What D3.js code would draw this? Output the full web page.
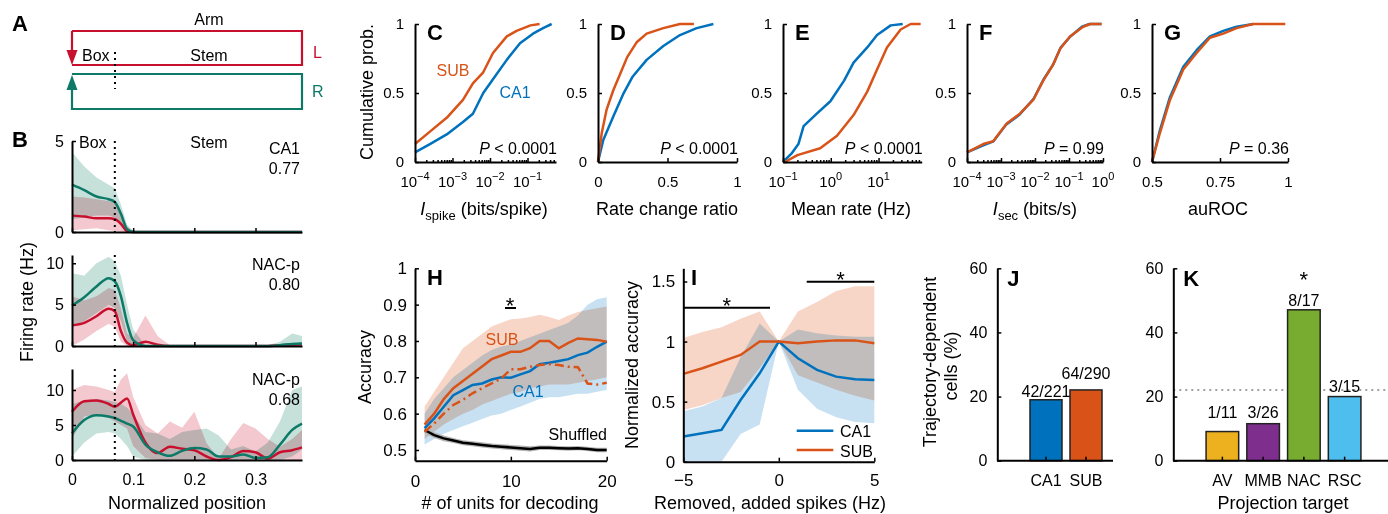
<!DOCTYPE html>
<html>
<head>
<meta charset="utf-8">
<script src="https://cdnjs.cloudflare.com/ajax/libs/d3/7.8.5/d3.min.js"></script>
<style>
  body { margin: 0; background: #fff; }
</style>
</head>
<body>
<svg id="fig" width="1388" height="514"></svg>
<script>
// ---------------- data ----------------
// B: firing rate along the normalized position (three example cells)
const bPos = [0, 0.02, 0.04, 0.06, 0.07, 0.08, 0.09, 0.1, 0.12, 0.14, 0.16, 0.18, 0.2, 0.22, 0.24, 0.26, 0.28, 0.3, 0.32, 0.34, 0.36, 0.376];

const b1Teal   = [2.6, 2.3, 1.95, 1.8, 1.65, 1.0, 0.15, 0, 0, 0, 0, 0, 0, 0, 0, 0, 0, 0, 0, 0, 0, 0];
const b1TealLo = [0.7, 0.8, 0.9, 0.9, 0.8, 0.3, 0, 0, 0, 0, 0, 0, 0, 0, 0, 0, 0, 0, 0, 0, 0, 0];
const b1TealHi = [4.4, 3.6, 3.0, 2.6, 2.4, 1.5, 0.4, 0.05, 0.03, 0.03, 0.03, 0.03, 0.03, 0.03, 0.03, 0.03, 0.03, 0.03, 0.03, 0.03, 0.03, 0.03];
const b1Red    = [0.9, 0.85, 0.75, 0.75, 0.7, 0.45, 0.05, 0, 0, 0, 0, 0, 0, 0, 0, 0, 0, 0, 0, 0, 0, 0];
const b1RedLo  = [0.1, 0.15, 0.2, 0.1, 0.05, 0, 0, 0, 0, 0, 0, 0, 0, 0, 0, 0, 0, 0, 0, 0, 0, 0];
const b1RedHi  = [1.95, 1.9, 1.8, 1.7, 1.6, 1.1, 0.3, 0.05, 0, 0, 0, 0, 0, 0, 0, 0, 0, 0, 0, 0, 0, 0];

const b2Teal   = [4.9, 5.9, 7.2, 8.2, 7.8, 6.0, 2.8, 0.7, 0, 0, 0, 0, 0, 0, 0, 0, 0, 0, 0, 0.1, 0.25, 0.3];
const b2TealLo = [2.3, 3.0, 4.0, 5.0, 4.6, 3.0, 0.5, 0, 0, 0, 0, 0, 0, 0, 0, 0, 0, 0, 0, 0, 0, 0];
const b2TealHi = [8.8, 8.5, 10.0, 10.8, 10.2, 8.5, 5.0, 2.0, 0.1, 0, 0, 0, 0, 0, 0, 0, 0, 0, 0.1, 0.5, 1.5, 1.2];
const b2Red    = [2.5, 2.8, 3.6, 4.5, 4.2, 1.8, 0.4, 0.1, 0.5, 0.15, 0, 0, 0, 0, 0, 0, 0, 0, 0, 0.1, 0.15, 0.2];
const b2RedLo  = [0, 0.8, 1.8, 2.7, 2.3, 0.5, 0, 0, 0, 0, 0, 0, 0, 0, 0, 0, 0, 0, 0, 0, 0, 0];
const b2RedHi  = [6.0, 5.5, 6.0, 7.0, 6.8, 4.5, 1.5, 1.0, 3.7, 1.2, 0.1, 0, 0, 0, 0, 0, 0, 0, 0, 0.2, 0.3, 0.4];

const b3Teal   = [3.8, 5.7, 6.4, 6.2, 6.0, 5.6, 5.2, 4.8, 2.2, 1.1, 0.6, 1.3, 1.7, 1.5, 0.5, 0.5, 0.8, 0.3, 0.4, 2.2, 4.3, 5.2];
const b3TealLo = [0.5, 2.5, 3.8, 4.0, 3.8, 3.0, 2.0, 0.5, 0, 0, 0, 0, 0, 0, 0, 0, 0, 0, 0, 0, 0.5, 1.5];
const b3TealHi = [8.0, 8.5, 8.7, 8.5, 8.3, 8.0, 7.5, 6.5, 4.0, 3.8, 3.0, 4.0, 4.3, 4.5, 3.5, 1.5, 2.0, 1.2, 2.5, 5.5, 10.0, 10.5];
const b3Red    = [6.9, 8.4, 8.5, 8.0, 7.6, 8.2, 8.8, 6.5, 2.5, 1.0, 1.9, 1.6, 1.4, 0.5, 0, 0.4, 1.3, 1.1, 0.2, 1.1, 1.4, 1.8];
const b3RedLo  = [3.0, 6.2, 6.5, 6.0, 5.5, 5.0, 4.5, 2.0, 0.3, 0, 0, 0, 0, 0, 0, 0, 0, 0, 0, 0, 0, 0];
const b3RedHi  = [10.0, 10.7, 10.5, 10.0, 9.7, 11.5, 12.4, 9.0, 5.0, 3.8, 5.5, 4.6, 6.9, 2.4, 0.2, 3.0, 5.3, 4.5, 3.0, 1.9, 3.0, 4.3];

const bNames  = ['CA1', 'NAC-p', 'NAC-p'];
const bScores = ['0.77', '0.80', '0.68'];

// C-G: cumulative distributions (value, cumulative probability)
const cSubX = [1e-4, 2.5e-4, 7e-4, 1.9e-3, 3.5e-3, 6.6e-3, 0.012, 0.028, 0.051, 0.12, 0.21];
const cSubP = [0.13, 0.22, 0.32, 0.45, 0.57, 0.65, 0.79, 0.91, 0.95, 0.99, 1];
const cCa1X = [1e-4, 2.5e-4, 7e-4, 1.9e-3, 3.5e-3, 6.6e-3, 0.012, 0.028, 0.063, 0.14, 0.26, 0.44];
const cCa1P = [0.07, 0.13, 0.2, 0.29, 0.35, 0.5, 0.6, 0.74, 0.86, 0.93, 0.97, 1];

const dSubX = [0, 0.027, 0.062, 0.11, 0.16, 0.21, 0.28, 0.35, 0.47, 0.59, 0.69];
const dSubP = [0, 0.21, 0.38, 0.52, 0.64, 0.76, 0.87, 0.93, 0.97, 1, 1];
const dCa1X = [0, 0.038, 0.11, 0.18, 0.25, 0.35, 0.47, 0.59, 0.71, 0.83];
const dCa1P = [0, 0.16, 0.33, 0.49, 0.62, 0.74, 0.84, 0.92, 0.97, 1];

const eCa1X = [0.1, 0.15, 0.21, 0.27, 0.51, 0.98, 1.9, 3.0, 5.8, 9.3, 18, 32];
const eCa1P = [0, 0.06, 0.13, 0.26, 0.35, 0.44, 0.59, 0.72, 0.83, 0.92, 0.99, 1];
const eSubX = [0.11, 0.2, 0.6, 1.35, 3.0, 5.8, 9.3, 15, 29, 47, 76];
const eSubP = [0, 0.05, 0.1, 0.19, 0.34, 0.51, 0.67, 0.83, 0.96, 1, 1];

const fCa1X = [1e-4, 3e-4, 6e-4, 1.4e-3, 3.4e-3, 9.2e-3, 0.018, 0.033, 0.057, 0.11, 0.24, 0.4, 0.9];
const fCa1P = [0.07, 0.12, 0.15, 0.27, 0.34, 0.46, 0.6, 0.7, 0.83, 0.91, 0.98, 1, 1];
const fSubX = [1e-4, 3e-4, 5.9e-4, 1.5e-3, 3.6e-3, 8.9e-3, 0.0174, 0.035, 0.055, 0.107, 0.26, 0.42, 0.91];
const fSubP = [0.07, 0.13, 0.15, 0.28, 0.35, 0.45, 0.59, 0.71, 0.82, 0.91, 0.98, 1, 1];

const gCa1X = [0.5, 0.529, 0.566, 0.615, 0.664, 0.713, 0.762, 0.811, 0.872];
const gCa1P = [0, 0.23, 0.47, 0.69, 0.81, 0.91, 0.95, 0.98, 1];
const gSubX = [0.5, 0.529, 0.566, 0.615, 0.664, 0.713, 0.762, 0.811, 0.872, 0.99];
const gSubP = [0, 0.21, 0.45, 0.67, 0.79, 0.9, 0.93, 0.97, 1, 1];

// H: decoding accuracy vs number of units
const hUnits   = [1, 2, 3, 4, 5, 6, 7, 8, 9, 10, 11, 12, 13, 14, 15, 16, 17, 18, 19, 20];
const hSub     = [0.57, 0.60, 0.64, 0.67, 0.69, 0.71, 0.73, 0.75, 0.76, 0.77, 0.77, 0.78, 0.80, 0.80, 0.78, 0.795, 0.807, 0.805, 0.803, 0.798];
const hSubLo   = [0.53, 0.55, 0.57, 0.585, 0.60, 0.61, 0.625, 0.635, 0.645, 0.655, 0.66, 0.67, 0.675, 0.68, 0.68, 0.68, 0.685, 0.69, 0.695, 0.70];
const hSubHi   = [0.62, 0.66, 0.70, 0.74, 0.78, 0.80, 0.82, 0.84, 0.85, 0.86, 0.862, 0.866, 0.872, 0.866, 0.858, 0.87, 0.88, 0.885, 0.89, 0.895];
const hCa1     = [0.56, 0.587, 0.619, 0.651, 0.665, 0.679, 0.683, 0.694, 0.70, 0.699, 0.708, 0.717, 0.736, 0.74, 0.745, 0.75, 0.761, 0.768, 0.784, 0.798];
const hCa1Lo   = [0.515, 0.53, 0.545, 0.555, 0.565, 0.575, 0.585, 0.595, 0.60, 0.61, 0.62, 0.63, 0.64, 0.645, 0.645, 0.65, 0.655, 0.655, 0.66, 0.665];
const hCa1Hi   = [0.60, 0.64, 0.67, 0.70, 0.72, 0.74, 0.76, 0.775, 0.785, 0.79, 0.80, 0.81, 0.82, 0.83, 0.84, 0.85, 0.87, 0.90, 0.915, 0.92];
const hSubDash = [0.55, 0.573, 0.60, 0.624, 0.638, 0.656, 0.67, 0.683, 0.697, 0.722, 0.722, 0.729, 0.734, 0.736, 0.734, 0.729, 0.728, 0.683, 0.68, 0.685];
const hShuf    = [0.555, 0.541, 0.532, 0.526, 0.52, 0.517, 0.514, 0.511, 0.509, 0.507, 0.505, 0.503, 0.506, 0.506, 0.505, 0.504, 0.505, 0.503, 0.50, 0.50];
const hShufLo  = [0.547, 0.533, 0.524, 0.519, 0.513, 0.51, 0.507, 0.504, 0.502, 0.5, 0.498, 0.496, 0.5, 0.5, 0.499, 0.498, 0.499, 0.497, 0.494, 0.494];
const hShufHi  = [0.563, 0.549, 0.54, 0.533, 0.527, 0.524, 0.521, 0.518, 0.516, 0.514, 0.512, 0.51, 0.512, 0.512, 0.511, 0.51, 0.511, 0.509, 0.506, 0.506];

// I: normalized accuracy vs removed / added spikes
const iShift = [-5, -4, -3, -2, -1, 0, 1, 2, 3, 4, 5];
const iCa1   = [0.21, 0.236, 0.264, 0.514, 0.736, 1, 0.861, 0.764, 0.708, 0.686, 0.681];
const iCa1Lo = [0, 0, 0, 0.23, 0.31, 1, 0.6, 0.44, 0.37, 0.33, 0.32];
const iCa1Hi = [0.42, 0.46, 0.53, 0.87, 1.15, 1, 1.1, 1.07, 1.05, 1.04, 1.04];
const iSub   = [0.731, 0.778, 0.833, 0.889, 1.0, 1.0, 0.986, 1.0, 1.01, 1.01, 0.986];
const iSubLo = [0.43, 0.47, 0.53, 0.58, 0.78, 1, 0.72, 0.66, 0.6, 0.55, 0.51];
const iSubHi = [1.03, 1.08, 1.12, 1.19, 1.25, 1, 1.25, 1.33, 1.42, 1.46, 1.46];

// J, K: trajectory-dependent cells
const jCats   = ['CA1', 'SUB'];
const jCounts = [42, 64];
const jTotals = [221, 290];
const kCats   = ['AV', 'MMB', 'NAC', 'RSC'];
const kCounts = [1, 3, 8, 3];
const kTotals = [11, 26, 17, 15];
const kOverall = 22.07;

// ---------------- style ----------------
const FONT = '"Liberation Sans", Arial, Helvetica, sans-serif';
const BLUE = '#0072BD', ORANGE = '#D95319';
const BLUE_L = '#c8e1f2', ORANGE_L = '#f7d6c7';
const RED = '#C8102E', TEAL = '#0D7A68';
const RED_L = '#f3c9cf', TEAL_L = '#c6e0da';
const jColors = ['#0072BD', '#D95319'];
const kColors = ['#EDB120', '#7E2F8E', '#77AC30', '#4DBEEE'];

const svg = d3.select('#fig').attr('font-family', FONT);

function txt(x, y, s, o = {}) {
    return svg.append('text')
        .attr('x', x).attr('y', y)
        .attr('font-size', o.size || 16)
        .attr('text-anchor', o.anchor || 'start')
        .attr('fill', o.fill || '#000')
        .attr('font-weight', o.weight || null)
        .attr('font-style', o.italic ? 'italic' : null)
        .text(s);
}

function vtxt(x, y, s, size = 18) {
    return svg.append('text')
        .attr('transform', `translate(${x},${y}) rotate(-90)`)
        .attr('text-anchor', 'middle')
        .attr('font-size', size)
        .text(s);
}

function letter(x, y, s) {
    return txt(x, y, s, { size: 22, weight: 'bold' });
}

function styleAxis(g, fs) {
    g.attr('font-family', FONT).attr('font-size', fs);
    g.select('.domain').attr('stroke', '#000').attr('stroke-width', 2);
    g.selectAll('.tick line').attr('stroke', '#000').attr('stroke-width', 1.5);
    g.selectAll('.tick text').attr('fill', '#000');
    return g;
}

const fmtNum = d => (d < 0 ? '\u2212' + (-d) : String(d));

// ---------------- A: maze sketch ----------------
letter(12, 31, 'A');
txt(209, 25, 'Arm', { anchor: 'middle' });
txt(82, 61, 'Box');
txt(209, 61, 'Stem', { anchor: 'middle' });
txt(313, 58, 'L', { fill: RED });
txt(312, 97, 'R', { fill: TEAL });

svg.append('path')
    .attr('d', 'M72,31 H302 V65 H72 M72,31 V51')
    .attr('fill', 'none').attr('stroke', RED).attr('stroke-width', 2.2);
svg.append('path')
    .attr('d', 'M66.5,50 L77.5,50 L72,65 Z')
    .attr('fill', RED);
svg.append('path')
    .attr('d', 'M72,74 H302 V109 H72 V89')
    .attr('fill', 'none').attr('stroke', TEAL).attr('stroke-width', 2.2);
svg.append('path')
    .attr('d', 'M66.5,90 L77.5,90 L72,75 Z')
    .attr('fill', TEAL);
svg.append('line')
    .attr('x1', 115).attr('x2', 115).attr('y1', 52).attr('y2', 89)
    .attr('stroke', '#000').attr('stroke-width', 2).attr('stroke-dasharray', '2,4');

// ---------------- B: firing-rate profiles ----------------
letter(12, 147, 'B');
const xB = d3.scaleLinear().domain([0, 0.376]).range([72, 302]);
const bRows = [
    { bottom: 232, max: 5,  ticks: [0, 5],     teal: b1Teal, tLo: b1TealLo, tHi: b1TealHi, red: b1Red, rLo: b1RedLo, rHi: b1RedHi, nameY: 154 },
    { bottom: 346, max: 11, ticks: [0, 5, 10], teal: b2Teal, tLo: b2TealLo, tHi: b2TealHi, red: b2Red, rLo: b2RedLo, rHi: b2RedHi, nameY: 270 },
    { bottom: 460, max: 13, ticks: [0, 5, 10], teal: b3Teal, tLo: b3TealLo, tHi: b3TealHi, red: b3Red, rLo: b3RedLo, rHi: b3RedHi, nameY: 385 }
];

bRows.forEach((row, r) => {
    const y = d3.scaleLinear().domain([0, row.max]).range([row.bottom, row.bottom - 91]);
    const band = (lo, hi) => d3.area()
        .x((d, i) => xB(bPos[i]))
        .y0((d, i) => y(lo[i]))
        .y1((d, i) => y(hi[i]));
    const line = vals => d3.line()
        .x((d, i) => xB(bPos[i]))
        .y((d, i) => y(vals[i]))
        .curve(d3.curveMonotoneX);

    svg.append('path').datum(bPos).attr('d', band(row.tLo, row.tHi))
        .attr('fill', TEAL_L).style('mix-blend-mode', 'multiply');
    svg.append('path').datum(bPos).attr('d', band(row.rLo, row.rHi))
        .attr('fill', RED_L).style('mix-blend-mode', 'multiply');
    svg.append('path').datum(bPos).attr('d', line(row.red))
        .attr('fill', 'none').attr('stroke', RED).attr('stroke-width', 2.5);
    svg.append('path').datum(bPos).attr('d', line(row.teal))
        .attr('fill', 'none').attr('stroke', TEAL).attr('stroke-width', 2.5);

    // box / stem boundary
    svg.append('line')
        .attr('x1', xB(0.07)).attr('x2', xB(0.07))
        .attr('y1', row.bottom - 91).attr('y2', row.bottom)
        .attr('stroke', '#000').attr('stroke-width', 2).attr('stroke-dasharray', '2,4');

    styleAxis(svg.append('g').attr('transform', 'translate(72,0)')
        .call(d3.axisLeft(y).tickValues(row.ticks).tickFormat(fmtNum)
            .tickSizeInner(-4).tickSizeOuter(0).tickPadding(8)), 16);
    styleAxis(svg.append('g').attr('transform', `translate(0,${row.bottom})`)
        .call(d3.axisBottom(xB).tickValues([0, 0.1, 0.2, 0.3]).tickSizeInner(-4).tickSizeOuter(0).tickPadding(14)
            .tickFormat(r === 2 ? (d => (d === 0 ? '0' : d3.format('.1f')(d))) : '')), 16);

    txt(300, row.nameY, bNames[r], { anchor: 'end' });
    txt(300, row.nameY + 20, bScores[r], { anchor: 'end' });
});
txt(79, 148, 'Box');
txt(209, 148, 'Stem', { anchor: 'middle' });
vtxt(33, 302, 'Firing rate (Hz)');
txt(187, 509, 'Normalized position', { anchor: 'middle', size: 18 });

// ---------------- C-G: cumulative distributions ----------------
const yTop = d3.scaleLinear().domain([0, 1]).range([162, 24]);

function logLabels(x, values) {
    values.forEach(v => {
        const e = Math.round(Math.log10(v));
        const t = svg.append('text').attr('x', x(v)).attr('y', 187)
            .attr('text-anchor', 'middle').attr('font-size', 15);
        t.append('tspan').text('10');
        t.append('tspan').attr('dy', -7).attr('font-size', 11).text(e < 0 ? '\u2212' + (-e) : String(e));
    });
}

function minorTicks(x) {
    const [a, b] = x.domain();
    const out = [];
    for (let e = Math.floor(Math.log10(a)); e <= Math.ceil(Math.log10(b)); e++) {
        for (let k = 2; k <= 9; k++) {
            const v = k * Math.pow(10, e);
            if (v > a && v < b) out.push(v);
        }
    }
    return out;
}

function cdfPanel(cfg) {
    const x = cfg.x;
    cfg.series.forEach(s => {
        svg.append('path')
            .datum(d3.zip(s.xs, s.ps))
            .attr('d', d3.line().x(d => x(d[0])).y(d => yTop(d[1])))
            .attr('fill', 'none').attr('stroke', s.color).attr('stroke-width', 2.5)
            .attr('stroke-linejoin', 'round');
    });

    styleAxis(svg.append('g').attr('transform', `translate(${x.range()[0]},0)`)
        .call(d3.axisLeft(yTop).tickValues([0, 0.5, 1]).tickFormat(fmtNum)
            .tickSizeInner(-4).tickSizeOuter(0).tickPadding(11)), 15);

    if (cfg.log) {
        styleAxis(svg.append('g').attr('transform', 'translate(0,162)')
            .call(d3.axisBottom(x).tickValues(cfg.ticks).tickFormat('')
                .tickSizeInner(-4).tickSizeOuter(0)), 15);
        const gm = styleAxis(svg.append('g').attr('transform', 'translate(0,162)')
            .call(d3.axisBottom(x).tickValues(minorTicks(x)).tickFormat('')
                .tickSizeInner(-2).tickSizeOuter(0)), 15);
        gm.select('.domain').remove();
        logLabels(x, cfg.ticks);
    } else {
        styleAxis(svg.append('g').attr('transform', 'translate(0,162)')
            .call(d3.axisBottom(x).tickValues(cfg.ticks).tickFormat(fmtNum)
                .tickSizeInner(-4).tickSizeOuter(0).tickPadding(14)), 15);
    }

    letter(x.range()[0] + 12, 40, cfg.letter);

    const p = svg.append('text').attr('x', x.range()[1] + 1).attr('y', 154)
        .attr('text-anchor', 'end').attr('font-size', 16);
    p.append('tspan').attr('font-style', 'italic').text('P');
    p.append('tspan').text(cfg.p);
}

const xC = d3.scaleLog().domain([1e-4, 0.575]).range([415, 556]);
const xD = d3.scaleLinear().domain([0, 1]).range([598, 737]);
const xE = d3.scaleLog().domain([0.1, 80]).range([783, 921.7]);
const xF = d3.scaleLog().domain([1e-4, 1]).range([967, 1103]);
const xG = d3.scaleLinear().domain([0.5, 1]).range([1152, 1288]);

cdfPanel({ x: xC, log: true, ticks: [1e-4, 1e-3, 1e-2, 1e-1], letter: 'C', p: ' < 0.0001',
    series: [{ xs: cCa1X, ps: cCa1P, color: BLUE }, { xs: cSubX, ps: cSubP, color: ORANGE }] });
cdfPanel({ x: xD, log: false, ticks: [0, 0.5, 1], letter: 'D', p: ' < 0.0001',
    series: [{ xs: dCa1X, ps: dCa1P, color: BLUE }, { xs: dSubX, ps: dSubP, color: ORANGE }] });
cdfPanel({ x: xE, log: true, ticks: [0.1, 1, 10], letter: 'E', p: ' < 0.0001',
    series: [{ xs: eCa1X, ps: eCa1P, color: BLUE }, { xs: eSubX, ps: eSubP, color: ORANGE }] });
cdfPanel({ x: xF, log: true, ticks: [1e-4, 1e-3, 1e-2, 1e-1, 1], letter: 'F', p: ' = 0.99',
    series: [{ xs: fCa1X, ps: fCa1P, color: BLUE }, { xs: fSubX, ps: fSubP, color: ORANGE }] });
cdfPanel({ x: xG, log: false, ticks: [0.5, 0.75, 1], letter: 'G', p: ' = 0.36',
    series: [{ xs: gCa1X, ps: gCa1P, color: BLUE }, { xs: gSubX, ps: gSubP, color: ORANGE }] });

txt(453, 76, 'SUB', { fill: ORANGE, anchor: 'middle' });
txt(515, 98, 'CA1', { fill: BLUE, anchor: 'middle' });
vtxt(373, 92, 'Cumulative prob.');

// axis titles of the top row
const lc = svg.append('text').attr('x', 484).attr('y', 215).attr('text-anchor', 'middle').attr('font-size', 18);
lc.append('tspan').attr('font-style', 'italic').text('I');
lc.append('tspan').attr('font-size', 13).attr('dy', 5).text('spike');
lc.append('tspan').attr('dy', -5).text(' (bits/spike)');
txt(667, 215, 'Rate change ratio', { anchor: 'middle', size: 18 });
txt(851, 215, 'Mean rate (Hz)', { anchor: 'middle', size: 18 });
const lf = svg.append('text').attr('x', 1035).attr('y', 215).attr('text-anchor', 'middle').attr('font-size', 18);
lf.append('tspan').attr('font-style', 'italic').text('I');
lf.append('tspan').attr('font-size', 13).attr('dy', 5).text('sec');
lf.append('tspan').attr('dy', -5).text(' (bits/s)');
txt(1218, 215, 'auROC', { anchor: 'middle', size: 18 });

// ---------------- H: decoding accuracy ----------------
const xH = d3.scaleLinear().domain([0, 20]).range([415, 606.7]);
const yH = d3.scaleLinear().domain([0.4705, 1]).range([460.7, 268.3]);
const hBand = (lo, hi) => d3.area().x((d, i) => xH(hUnits[i])).y0((d, i) => yH(lo[i])).y1((d, i) => yH(hi[i]));
const hLine = vals => d3.line().x((d, i) => xH(hUnits[i])).y((d, i) => yH(vals[i]));

svg.append('path').datum(hUnits).attr('d', hBand(hCa1Lo, hCa1Hi)).attr('fill', BLUE_L).style('mix-blend-mode', 'multiply');
svg.append('path').datum(hUnits).attr('d', hBand(hSubLo, hSubHi)).attr('fill', ORANGE_L).style('mix-blend-mode', 'multiply');
svg.append('path').datum(hUnits).attr('d', hBand(hShufLo, hShufHi)).attr('fill', '#b4b4b4');
svg.append('path').datum(hUnits).attr('d', hLine(hShuf)).attr('fill', 'none').attr('stroke', '#000').attr('stroke-width', 2.5);
svg.append('path').datum(hUnits).attr('d', hLine(hCa1)).attr('fill', 'none').attr('stroke', BLUE).attr('stroke-width', 2.5);
svg.append('path').datum(hUnits).attr('d', hLine(hSubDash)).attr('fill', 'none').attr('stroke', ORANGE).attr('stroke-width', 2.5)
    .attr('stroke-dasharray', '9,4,2,4');
svg.append('path').datum(hUnits).attr('d', hLine(hSub)).attr('fill', 'none').attr('stroke', ORANGE).attr('stroke-width', 2.5);

styleAxis(svg.append('g').attr('transform', 'translate(415,0)')
    .call(d3.axisLeft(yH).tickValues([0.5, 0.6, 0.7, 0.8, 0.9, 1]).tickFormat(fmtNum)
        .tickSizeInner(-4).tickSizeOuter(0).tickPadding(8)), 17);
styleAxis(svg.append('g').attr('transform', 'translate(0,460.7)')
    .call(d3.axisBottom(xH).tickValues([0, 10, 20]).tickSizeInner(-4).tickSizeOuter(0).tickPadding(14)), 17);

letter(427, 285, 'H');
txt(510, 312.5, '*', { anchor: 'middle', size: 22 });
svg.append('line').attr('x1', 505).attr('x2', 516).attr('y1', 308).attr('y2', 308)
    .attr('stroke', '#000').attr('stroke-width', 2);
txt(502, 345, 'SUB', { fill: ORANGE, anchor: 'middle' });
txt(528, 396.7, 'CA1', { fill: BLUE, anchor: 'middle' });
txt(607, 440, 'Shuffled', { anchor: 'end' });
vtxt(371, 367, 'Accuracy');
txt(510, 509, '# of units for decoding', { anchor: 'middle', size: 18 });

// ---------------- I: spike perturbation ----------------
const xI = d3.scaleLinear().domain([-5, 5]).range([683.3, 874.3]);
const yI = d3.scaleLinear().domain([0, 1.61]).range([461.7, 268.3]);
const iBand = (lo, hi) => d3.area().x((d, i) => xI(iShift[i])).y0((d, i) => yI(lo[i])).y1((d, i) => yI(hi[i]));
const iLine = vals => d3.line().x((d, i) => xI(iShift[i])).y((d, i) => yI(vals[i]));

svg.append('path').datum(iShift).attr('d', iBand(iCa1Lo, iCa1Hi)).attr('fill', BLUE_L).style('mix-blend-mode', 'multiply');
svg.append('path').datum(iShift).attr('d', iBand(iSubLo, iSubHi)).attr('fill', ORANGE_L).style('mix-blend-mode', 'multiply');
svg.append('path').datum(iShift).attr('d', iLine(iCa1)).attr('fill', 'none').attr('stroke', BLUE).attr('stroke-width', 2.5);
svg.append('path').datum(iShift).attr('d', iLine(iSub)).attr('fill', 'none').attr('stroke', ORANGE).attr('stroke-width', 2.5);

styleAxis(svg.append('g').attr('transform', 'translate(683.3,0)')
    .call(d3.axisLeft(yI).tickValues([0, 0.5, 1, 1.5]).tickFormat(fmtNum)
        .tickSizeInner(-4).tickSizeOuter(0).tickPadding(8)), 17);
styleAxis(svg.append('g').attr('transform', 'translate(0,461.7)')
    .call(d3.axisBottom(xI).tickValues([-5, 0, 5]).tickFormat(fmtNum)
        .tickSizeInner(-4).tickSizeOuter(0).tickPadding(12)), 17);

letter(691, 285, 'I');
svg.append('line').attr('x1', 683).attr('x2', 770).attr('y1', 307.7).attr('y2', 307.7).attr('stroke', '#000').attr('stroke-width', 2);
txt(726.7, 312.5, '*', { anchor: 'middle', size: 22 });
svg.append('line').attr('x1', 806.7).attr('x2', 874.3).attr('y1', 281.7).attr('y2', 281.7).attr('stroke', '#000').attr('stroke-width', 2);
txt(840.5, 286.5, '*', { anchor: 'middle', size: 22 });

// legend
svg.append('line').attr('x1', 796.7).attr('x2', 833.3).attr('y1', 430.7).attr('y2', 430.7).attr('stroke', BLUE).attr('stroke-width', 2.5);
svg.append('line').attr('x1', 796.7).attr('x2', 833.3).attr('y1', 450).attr('y2', 450).attr('stroke', ORANGE).attr('stroke-width', 2.5);
txt(840, 436.7, 'CA1');
txt(840, 456.7, 'SUB');
vtxt(638, 365, 'Normalized accuracy');
txt(770, 509, 'Removed, added spikes (Hz)', { anchor: 'middle', size: 18 });

// ---------------- J, K: bar charts ----------------
const yJ = d3.scaleLinear().domain([0, 60]).range([460.7, 268.3]);

function barPanel(cfg) {
    const x = d3.scaleBand().domain(cfg.cats).range(cfg.band).paddingInner(0.2).paddingOuter(0.1);
    const pct = cfg.counts.map((c, i) => (100 * c) / cfg.totals[i]);

    if (cfg.baseline !== undefined) {
        svg.append('line').attr('x1', cfg.axis[0]).attr('x2', cfg.axis[1])
            .attr('y1', yJ(cfg.baseline)).attr('y2', yJ(cfg.baseline))
            .attr('stroke', '#a0a0a0').attr('stroke-width', 2).attr('stroke-dasharray', '2,4');
    }

    svg.selectAll(null).data(cfg.cats).enter().append('rect')
        .attr('x', d => x(d))
        .attr('y', (d, i) => yJ(pct[i]))
        .attr('width', x.bandwidth())
        .attr('height', (d, i) => yJ(0) - yJ(pct[i]))
        .attr('fill', (d, i) => cfg.colors[i])
        .attr('stroke', '#222').attr('stroke-width', 1.5);

    cfg.cats.forEach((c, i) => {
        txt(x(c) + x.bandwidth() / 2, yJ(pct[i]) - cfg.lift[i], `${cfg.counts[i]}/${cfg.totals[i]}`, { anchor: 'middle' });
    });

    const gx = styleAxis(svg.append('g').attr('transform', 'translate(0,460.7)')
        .call(d3.axisBottom(x).tickSizeInner(-4).tickSizeOuter(0).tickPadding(14)), 16);
    gx.select('.domain').remove();
    svg.append('line').attr('x1', cfg.axis[0]).attr('x2', cfg.axis[1])
        .attr('y1', 460.7).attr('y2', 460.7).attr('stroke', '#000').attr('stroke-width', 2);

    styleAxis(svg.append('g').attr('transform', `translate(${cfg.axis[0]},0)`)
        .call(d3.axisLeft(yJ).tickValues([0, 20, 40, 60]).tickSizeInner(-4).tickSizeOuter(0).tickPadding(10)), 16);

    letter(cfg.axis[0] + 10, 286, cfg.letter);
    return { x, pct };
}

barPanel({ cats: jCats, counts: jCounts, totals: jTotals, colors: jColors, band: [1026, 1106],
    axis: [997.3, 1113], lift: [3, 11], letter: 'J' });
const k = barPanel({ cats: kCats, counts: kCounts, totals: kTotals, colors: kColors, band: [1202, 1365],
    axis: [1173.3, 1388], lift: [13.5, 5.7, 4, 5], letter: 'K', baseline: kOverall });
txt(k.x('NAC') + k.x.bandwidth() / 2, 287, '*', { anchor: 'middle', size: 22 });

vtxt(936, 362, 'Trajectory-dependent');
vtxt(957, 366, 'cells (%)');
txt(1283, 509, 'Projection target', { anchor: 'middle', size: 18 });
</script>
</body>
</html>
